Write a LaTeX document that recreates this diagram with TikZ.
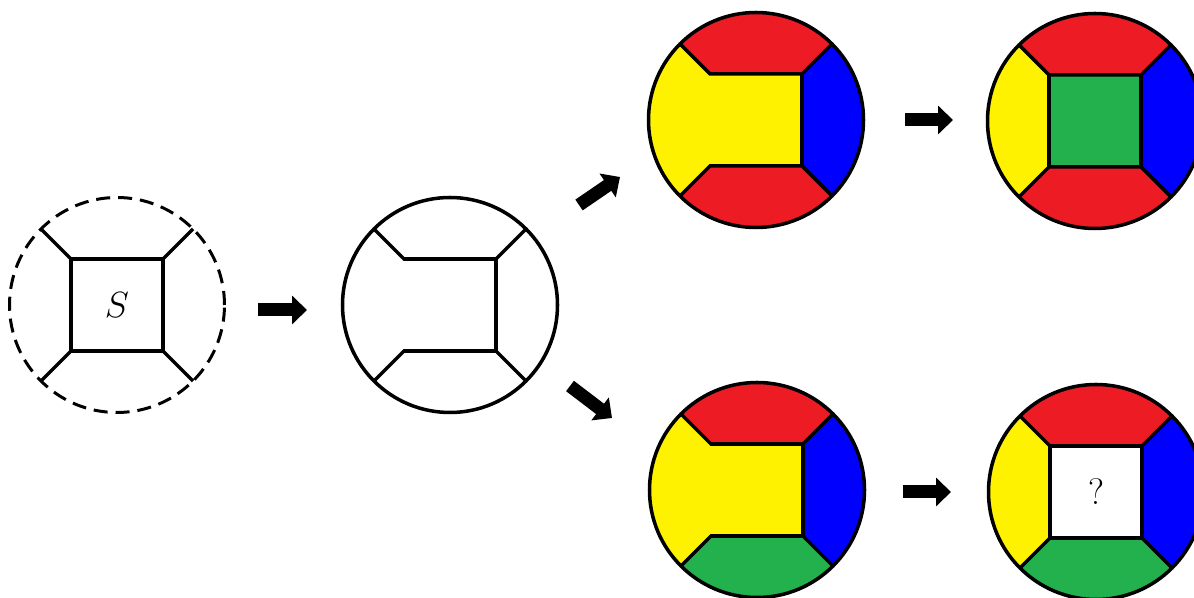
\documentclass[tikz,border=0pt]{standalone}
\usepackage{tikz}
\usetikzlibrary{calc,arrows.meta}
\definecolor{pred}{RGB}{237,28,36}
\definecolor{pyellow}{RGB}{255,242,0}
\definecolor{pblue}{RGB}{0,0,255}
\definecolor{pgreen}{RGB}{34,177,76}
\newcommand{\rimr}{107.5}
\newcommand{\sqh}{46}
% fills: centre, top, right, bottom, left, middle
\newcommand{\glyphfill}[6]{%
  \fill[#5] (#1) circle[radius=\rimr];
  \fill[#2] ($(#1)+(-\sqh,\sqh)$) -- ($(#1)+(135:\rimr)$) arc[start angle=135,end angle=45,radius=\rimr] -- ($(#1)+(\sqh,\sqh)$) -- cycle;
  \fill[#3] ($(#1)+(\sqh,\sqh)$) -- ($(#1)+(45:\rimr)$) arc[start angle=45,end angle=-45,radius=\rimr] -- ($(#1)+(\sqh,-\sqh)$) -- cycle;
  \fill[#4] ($(#1)+(\sqh,-\sqh)$) -- ($(#1)+(-45:\rimr)$) arc[start angle=-45,end angle=-135,radius=\rimr] -- ($(#1)+(-\sqh,-\sqh)$) -- cycle;
  \fill[#6] ($(#1)+(-\sqh,-\sqh)$) rectangle ($(#1)+(\sqh,\sqh)$);
}
% lines: centre, rim style, left side style
\newcommand{\glyphlines}[3]{%
  \draw[#2] (#1) circle[radius=\rimr];
  \draw[edge] ($(#1)+(135:\rimr)$) -- ($(#1)+(-\sqh,\sqh)$) -- ($(#1)+(\sqh,\sqh)$) -- ($(#1)+(45:\rimr)$);
  \draw[edge] ($(#1)+(-135:\rimr)$) -- ($(#1)+(-\sqh,-\sqh)$) -- ($(#1)+(\sqh,-\sqh)$) -- ($(#1)+(-45:\rimr)$);
  \draw[edge] ($(#1)+(\sqh,\sqh)$) -- ($(#1)+(\sqh,-\sqh)$);
  \draw[#3] ($(#1)+(-\sqh,\sqh)$) -- ($(#1)+(-\sqh,-\sqh)$);
}
\begin{document}
\begin{tikzpicture}[x=0.02cm,y=0.02cm,
  edge/.style={line width=2pt,black},
  rimdash/.style={line width=1.7pt,black,dash pattern=on 8pt off 4.5pt},
  open/.style={draw=none},
  bigarrow/.style={line width=0.26cm,-{Triangle[width=0.56cm,length=0.3cm]}}]
\useasboundingbox (0,0) rectangle (1194,598);
\clip (0,0) rectangle (1194,598);
\coordinate (g1) at (117,293);
\coordinate (g2) at (450,293);
\coordinate (g3) at (756,478);
\coordinate (g4) at (1095,477);
\coordinate (g5) at (757,108);
\coordinate (g6) at (1096,106);

\glyphlines{g1}{rimdash}{edge}
\node (s) at (g1) {\fontsize{22}{26}\selectfont$S$};
\glyphlines{g2}{edge}{open}

\glyphfill{g3}{pred}{pblue}{pred}{pyellow}{pyellow}
\glyphlines{g3}{edge}{open}
\glyphfill{g4}{pred}{pblue}{pred}{pyellow}{pgreen}
\glyphlines{g4}{edge}{edge}
\glyphfill{g5}{pred}{pblue}{pgreen}{pyellow}{pyellow}
\glyphlines{g5}{edge}{open}
\glyphfill{g6}{pred}{pblue}{pgreen}{pyellow}{white}
\glyphlines{g6}{edge}{edge}
\node (q) at (g6) {\fontsize{21}{25}\selectfont ?};

% arrows
\coordinate (a1s) at (258,288); \coordinate (a1e) at (307,288);
\coordinate (a2s) at (579,393); \coordinate (a2e) at (620,421);
\coordinate (a3s) at (570,212); \coordinate (a3e) at (612,180);
\coordinate (a4s) at (905,478); \coordinate (a4e) at (953,478);
\coordinate (a5s) at (903,106); \coordinate (a5e) at (951,106);
\draw[bigarrow] (a1s) -- (a1e);
\draw[bigarrow] (a2s) -- (a2e);
\draw[bigarrow] (a3s) -- (a3e);
\draw[bigarrow] (a4s) -- (a4e);
\draw[bigarrow] (a5s) -- (a5e);
\end{tikzpicture}
\end{document}
